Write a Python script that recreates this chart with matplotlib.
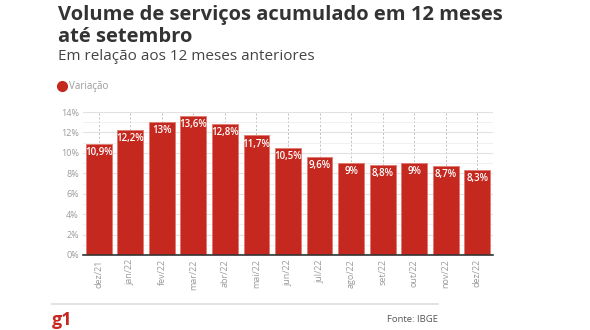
import matplotlib.pyplot as plt
from matplotlib.ticker import MultipleLocator, FuncFormatter

plt.rcParams['font.family'] = ['Open Sans', 'DejaVu Sans']

# dados
meses = ['dez/21', 'jan/22', 'fev/22', 'mar/22', 'abr/22', 'mai/22', 'jun/22',
         'jul/22', 'ago/22', 'set/22', 'out/22', 'nov/22', 'dez/22']
variacao = [10.9, 12.2, 13.0, 13.6, 12.8, 11.7, 10.5, 9.6, 9.0, 8.8, 9.0, 8.7, 8.3]
rotulos = ['10,9%', '12,2%', '13%', '13,6%', '12,8%', '11,7%', '10,5%',
           '9,6%', '9%', '8,8%', '9%', '8,7%', '8,3%']

vermelho = '#c4281f'
cinza = '#9a9a9a'

fig = plt.figure(figsize=(5.9, 3.3), dpi=100)
ax = fig.add_axes([83 / 590, 1 - 255 / 330, 410 / 590, 143 / 330])

x = range(len(meses))
ax.bar(x, variacao, width=0.82, color=vermelho, edgecolor='#e07a72', linewidth=0.6, zorder=3)

for i, (v, r) in enumerate(zip(variacao, rotulos)):
    ax.text(i, v - 0.3, r, ha='center', va='top', color='white',
            fontsize=7, fontweight='semibold', zorder=4)

ax.set_xlim(-0.5, len(meses) - 0.5)
ax.set_ylim(0, 14)
ax.yaxis.set_major_locator(MultipleLocator(2))
ax.yaxis.set_minor_locator(MultipleLocator(1))
ax.yaxis.set_major_formatter(FuncFormatter(lambda v, p: f'{int(v)}%'))
ax.set_xticks(list(x))
ax.set_xticklabels(meses, rotation=90, color=cinza, fontsize=6.5)
ax.tick_params(axis='y', colors=cinza, labelsize=6.5, length=0, pad=3)
ax.tick_params(axis='y', which='minor', length=0)
ax.tick_params(axis='x', length=0, pad=3)

ax.grid(axis='y', which='major', color='#e2e2e2', linewidth=0.8, zorder=0)
ax.grid(axis='y', which='minor', color='#eeeeee', linewidth=0.6, zorder=0)
ax.grid(axis='x', color='#bdbdbd', linestyle=(0, (2, 2)), linewidth=0.7, zorder=0)

for lado in ['top', 'right', 'left']:
    ax.spines[lado].set_visible(False)
ax.spines['bottom'].set_color('#333333')
ax.spines['bottom'].set_linewidth(1.2)
ax.spines['bottom'].set_zorder(5)

# títulos
fig.text(58 / 590, 1 - 5 / 330, 'Volume de serviços acumulado em 12 meses\naté setembro',
         ha='left', va='top', fontsize=14.5, fontweight='bold', color='#333333',
         linespacing=1.12)
fig.text(58 / 590, 1 - 49 / 330, 'Em relação aos 12 meses anteriores',
         ha='left', va='top', fontsize=11, color='#444444')

# legenda
fig.add_artist(plt.Line2D([62 / 590], [1 - 86 / 330], marker='o', markersize=7,
                          color=vermelho, linestyle='none'))
fig.text(69 / 590, 1 - 86 / 330, 'Variação', ha='left', va='center', fontsize=7, color=cinza)

# rodapé
fig.add_artist(plt.Line2D([52 / 590, 438 / 590], [1 - 304 / 330, 1 - 304 / 330],
                          color='#dddddd', linewidth=1.2))
fig.text(52 / 590, 1 - 320 / 330, 'g1', ha='left', va='center', fontsize=13,
         fontweight='bold', color=vermelho)
fig.text(438 / 590, 1 - 320 / 330, 'Fonte: IBGE', ha='right', va='center',
         fontsize=6.8, color='#555555')

fig.savefig('out.png', dpi=100)
